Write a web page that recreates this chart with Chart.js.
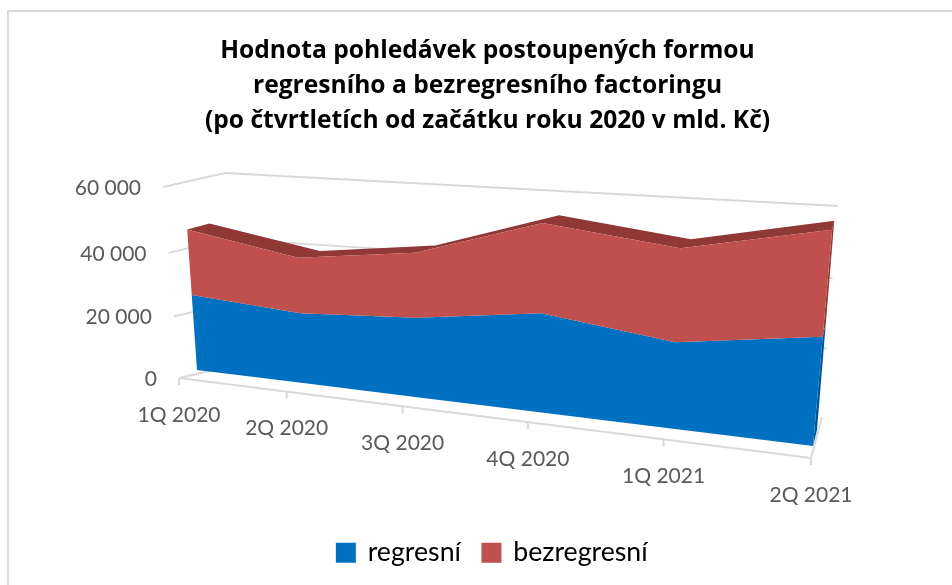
<!DOCTYPE html>
<html><head><meta charset="utf-8">
<script src="https://cdn.jsdelivr.net/npm/chart.js@4"></script>
<style>html,body{margin:0;padding:0;background:#fff}canvas{display:block}</style>
</head><body><canvas id="c" width="952" height="585"></canvas>
<script>
const categories = ['1Q 2020','2Q 2020','3Q 2020','4Q 2020','1Q 2021','2Q 2021'];
const regresni = [23200,21000,23100,27700,23400,28500];
const bezregresni = [19550,16170,18150,24100,24400,26400];
const titleLines = ['Hodnota pohledávek postoupených formou','regresního a bezregresního factoringu','(po čtvrtletích od začátku roku 2020 v mld. Kč)'];

function plane(bl,br,tr,tl){
  const [x0,y0]=bl,[x1,y1]=br,[x2,y2]=tr,[x3,y3]=tl;
  const dx1=x1-x2,dx2=x3-x2,sx=x0-x1+x2-x3,dy1=y1-y2,dy2=y3-y2,sy=y0-y1+y2-y3;
  const det=dx1*dy2-dx2*dy1, g=(sx*dy2-dx2*sy)/det, h=(dx1*sy-sx*dy1)/det;
  const a=x1-x0+g*x1,b=x3-x0+h*x3,d=y1-y0+g*y1,e=y3-y0+h*y3;
  return (u,v)=>{const w=g*u+h*v+1;return [(a*u+b*v+x0)/w,(d*u+e*v+y0)/w];};
}
const AXIS=plane([179,378],[811,458],[832,228],[163,187]);
const WALL=plane([232,366],[822,417],[838,206],[225,173]);
const FACE=plane([197,370],[813,446],[834,208.5],[183,170]);
const BACK=plane([220,364],[817,430],[836,200],[205,164]);

const perspective={id:'perspective',
  afterLayout(chart){ chart.legend.left+=5; chart.legend.right+=5; },
  beforeDraw(chart){
    const c=chart.ctx;c.save();c.fillStyle='#fff';c.fillRect(0,0,952,585);
    c.strokeStyle='#d9d9d9';c.lineWidth=2;c.beginPath();c.moveTo(8,585);c.lineTo(8,11);c.lineTo(952,11);c.stroke();c.restore();
  },
  beforeDatasetsDraw(chart){
    const c=chart.ctx,xs=chart.scales.x,ys=chart.scales.y;
    const U=p=>(p-xs.left)/(xs.right-xs.left), V=p=>(ys.bottom-p)/(ys.bottom-ys.top);
    const line=(a,b)=>{c.beginPath();c.moveTo(a[0],a[1]);c.lineTo(b[0],b[1]);c.stroke();};
    const poly=(pts,col)=>{c.fillStyle=col;c.beginPath();pts.forEach((p,i)=>i?c.lineTo(p[0],p[1]):c.moveTo(p[0],p[1]));c.closePath();c.fill();};
    c.save();
    c.strokeStyle='#d9d9d9';c.lineWidth=2;c.lineJoin='round';
    ys.ticks.forEach(t=>{
      const v=V(ys.getPixelForValue(t.value));
      line(AXIS(0,v),WALL(0,v));
      if(v>0)line(WALL(0,v),WALL(1,v));
    });
    line(AXIS(0,0),AXIS(1,0));
    line(AXIS(1,0),WALL(1,0));
    const n=categories.length;
    const us=categories.map((_,i)=>U(xs.getPixelForValue(i)));
    us.forEach(u=>{const p=AXIS(u,0);line(p,[p[0],p[1]+7]);});
    const tops=chart.data.datasets.map((ds,k)=>chart.getDatasetMeta(k).data.map(pt=>V(pt.y)));
    const shades=['#00569a','#8f3836'];
    tops.forEach((vs,k)=>{
      const lo=k?tops[k-1][n-1]:0,hi=vs[n-1];
      poly([FACE(1,lo),FACE(1,hi),BACK(1,hi),BACK(1,lo)],shades[k]);
    });
    const last=tops[tops.length-1];
    poly([...us.map((u,i)=>FACE(u,last[i])),...us.map((u,i)=>BACK(u,last[i])).reverse()],shades[1]);
    chart.data.datasets.forEach((ds,k)=>{
      const vs=tops[k],below=k?tops[k-1]:vs.map(()=>0);
      poly([...us.map((u,i)=>FACE(u,vs[i])),...us.map((u,i)=>FACE(u,below[i])).reverse()],ds.backgroundColor);
    });
    c.font='21px Lato';c.fillStyle='#595959';c.textBaseline='middle';
    c.textAlign='right';
    ys.ticks.forEach(t=>{
      const p=AXIS(0,V(ys.getPixelForValue(t.value)));
      c.fillText(t.label,p[0]-22,p[1]+1);
    });
    c.textAlign='center';
    us.forEach((u,i)=>{
      const p=AXIS(u,0);
      c.fillText(xs.getLabelForValue(i),p[0],p[1]+37);
    });
    c.restore();
  }
};

new Chart(document.getElementById('c'),{
  type:'line',
  data:{labels:categories,datasets:[
    {label:'regresní',data:regresni,backgroundColor:'#0070c0',borderColor:'#0070c0',showLine:false,pointRadius:0,fill:false},
    {label:'bezregresní',data:bezregresni,backgroundColor:'#c0504d',borderColor:'#c0504d',showLine:false,pointRadius:0,fill:false}
  ]},
  options:{responsive:false,animation:false,devicePixelRatio:1,
    layout:{padding:{left:23,right:0,top:0,bottom:9}},
    scales:{
      x:{offset:false,display:true,grid:{display:false},border:{display:false},ticks:{display:false}},
      y:{stacked:true,min:0,max:60000,grid:{display:false},border:{display:false},
        ticks:{display:false,stepSize:20000,callback:v=>String(v).replace(/\B(?=(\d{3})+$)/g,' ')}}
    },
    plugins:{
      tooltip:{enabled:false},
      title:{display:true,text:titleLines,color:'#000',align:'center',
        font:{family:'"Open Sans"',size:24.6,weight:'bold',lineHeight:1.43},padding:{top:33,bottom:20}},
      legend:{display:true,position:'bottom',
        labels:{color:'#000',boxWidth:17,boxHeight:17,padding:22,font:{family:'Lato',size:26.7}}}
    }
  },
  plugins:[perspective]
});
</script></body></html>
